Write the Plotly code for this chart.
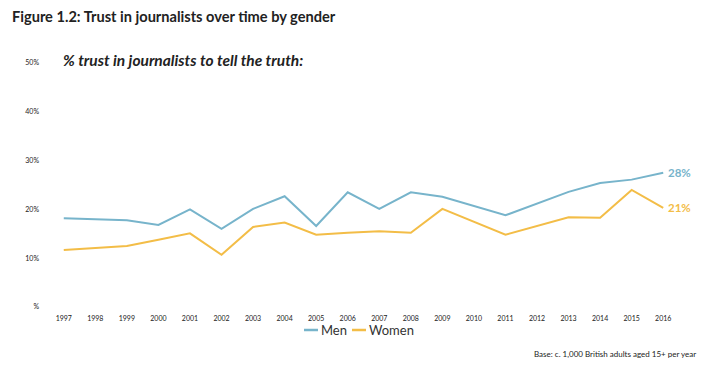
import plotly.graph_objects as go

years = list(range(1997, 2017))
men = [18.2, None, 17.8, 16.8, 20.0, 16.0, 20.1, 22.7, 16.6, 23.5,
       20.1, 23.5, 22.6, None, 18.8, None, 23.6, 25.4, 26.1, 27.5]
women = [11.7, None, 12.5, 13.8, 15.1, 10.7, 16.4, 17.3, 14.8, 15.2,
         15.5, 15.2, 20.1, None, 14.8, None, 18.4, 18.3, 24.0, 20.3]
series_names = ["Men", "Women"]
end_labels = ["28%", "21%"]
y_tickvals = [0, 10, 20, 30, 40, 50]
y_ticktext = ["%", "10%", "20%", "30%", "40%", "50%"]

BLUE = "#77B4CB"
GOLD = "#F3BD47"
COLORS = [BLUE, GOLD]
FONT = "Lato"
TXT = "#222222"

# page body has an 8px margin; size the figure so it fits the 719x375 window
OFF = 8
W, H = 719 - OFF, 375 - OFF
L, R, T, B = 40, 40, 55, 68
pw, ph = W - L - R, H - T - B


def px(x):  # window pixel x -> paper x
    return (x - OFF - L) / pw


def py(y):  # window pixel y -> paper y
    return (H - B - (y - OFF)) / ph


fig = go.Figure()
for name, vals, col, lab in zip(series_names, [men, women], COLORS, end_labels):
    fig.add_trace(go.Scatter(x=years, y=vals, name=name, mode="lines",
                             line=dict(color=col, width=2), connectgaps=True,
                             showlegend=False))
    fig.add_annotation(x=years[-1], y=vals[-1], text="<b>%s</b>" % lab,
                       showarrow=False, xanchor="left", yanchor="middle", xshift=3,
                       font=dict(family=FONT, size=11.5, color=col))

# titles and note
fig.add_annotation(xref="paper", yref="paper", x=px(10), y=py(17),
                   text="<b>Figure 1.2: Trust in journalists over time by gender</b>",
                   showarrow=False, xanchor="left", yanchor="middle",
                   font=dict(family=FONT, size=14.6, color=TXT))
fig.add_annotation(xref="paper", yref="paper", x=px(61), y=py(60),
                   text="<b><i>% trust in journalists to tell the truth:</i></b>",
                   showarrow=False, xanchor="left", yanchor="middle",
                   font=dict(family=FONT, size=15.5, color=TXT))
fig.add_annotation(xref="paper", yref="paper", x=px(698), y=py(354),
                   text="Base: c. 1,000 British adults aged 15+ per year",
                   showarrow=False, xanchor="right", yanchor="middle",
                   font=dict(family=FONT, size=8, color=TXT))

# legend (manual, to match the short line keys)
legend_pos = [(304, 318), (352, 366)]
for (x0, x1), name, col in zip(legend_pos, series_names, COLORS):
    fig.add_shape(type="line", xref="paper", yref="paper",
                  x0=px(x0), x1=px(x1), y0=py(330), y1=py(330),
                  line=dict(color=col, width=2.5))
    fig.add_annotation(xref="paper", yref="paper", x=px(x1 + 1), y=py(330),
                       text=name, showarrow=False, xanchor="left", yanchor="middle",
                       font=dict(family=FONT, size=13, color="#333333"))

fig.update_layout(
    width=W, height=H,
    margin=dict(l=L, r=R, t=T, b=B),
    paper_bgcolor="white", plot_bgcolor="white",
    font=dict(family=FONT, color=TXT),
    showlegend=False,
    xaxis=dict(range=[1996.5, 2016.5], tickvals=years, ticktext=[str(y) for y in years],
               showgrid=False, zeroline=False, showline=False, ticks="",
               tickfont=dict(family=FONT, size=7, color=TXT), ticklabelstandoff=6),
    yaxis=dict(range=[0, 50], tickvals=y_tickvals, ticktext=y_ticktext,
               showgrid=False, zeroline=False, showline=False, ticks="",
               tickfont=dict(family=FONT, size=7, color=TXT), ticklabelstandoff=8),
)

fig.write_html("out.html")
